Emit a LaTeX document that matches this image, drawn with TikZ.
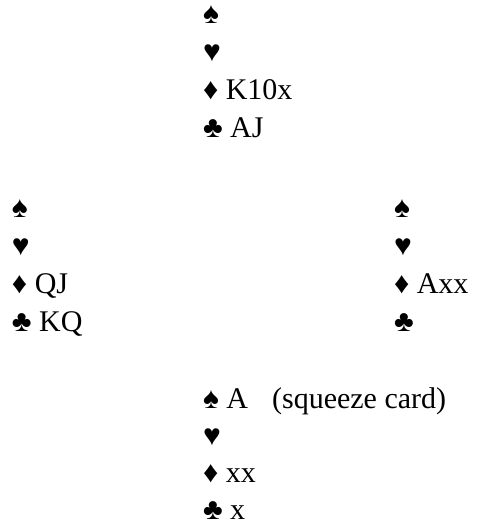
\documentclass[tikz,border=0pt]{standalone}
\usepackage{fontspec}
\setmainfont{Liberation Serif}
\begin{document}
\begin{tikzpicture}[x=1pt,y=1pt,
  hand/.style={anchor=base west,inner sep=0pt,outer sep=0pt,font=\fontsize{30}{36}\selectfont}]
\useasboundingbox (0,0) rectangle (476,-529);
% North
\node[hand] (ns) at (203,-24)  {♠};
\node[hand] (nh) at (203,-62)  {♥};
\node[hand] (nd) at (203,-100) {♦ K10x};
\node[hand] (nc) at (203,-138) {♣ AJ};
% West
\node[hand] (ws) at (12,-217) {♠};
\node[hand] (wh) at (12,-255) {♥};
\node[hand] (wd) at (12,-293) {♦ QJ};
\node[hand] (wc) at (12,-331) {♣ KQ};
% East
\node[hand] (es) at (394,-217) {♠};
\node[hand] (eh) at (394,-255) {♥};
\node[hand] (ed) at (394,-293) {♦ Axx};
\node[hand] (ec) at (394,-331) {♣};
% South
\node[hand] (ss) at (203,-408) {♠ A\hspace{24pt}(squeeze card)};
\node[hand] (sh) at (203,-445) {♥};
\node[hand] (sd) at (203,-482) {♦ xx};
\node[hand] (sc) at (203,-519) {♣ x};
\end{tikzpicture}
\end{document}
